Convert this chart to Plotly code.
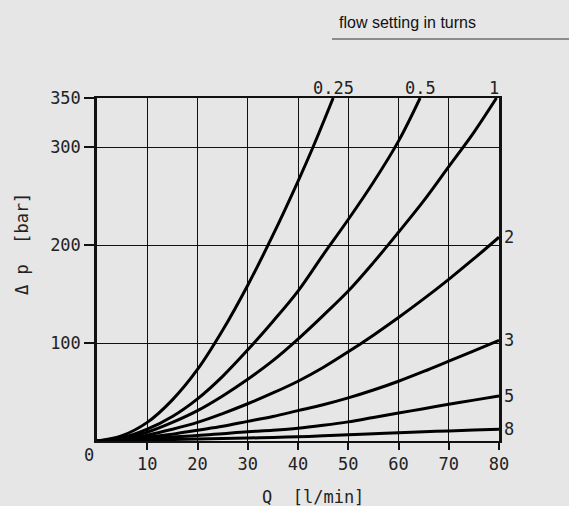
import plotly.graph_objects as go

# Flow Q [l/min] vs pressure drop [bar] for flow settings (turns)
settings = ["0.25", "0.5", "1", "2", "3", "5", "8"]
q_025 = [0, 5, 10, 15, 20, 25, 30, 35, 40, 43, 47]
dp_025 = [0, 5.5, 19, 42, 73, 113, 159, 210, 265, 300, 350]
q_05 = [0, 5, 10, 15, 20, 25, 30, 35, 40, 45, 50, 55, 60, 64.3]
dp_05 = [0, 3.3, 12, 25, 43, 66, 93, 122, 153, 190, 226, 264, 306, 350]
q_1 = [0, 5, 10, 15, 20, 25, 30, 35, 40, 45, 50, 55, 60, 65, 70, 75, 79.5]
dp_1 = [0, 2.3, 9, 19, 31, 46, 63, 82, 104, 128, 153, 182, 213, 245, 280, 315, 350]
q_2 = [0, 5, 10, 15, 20, 25, 30, 35, 40, 45, 50, 55, 60, 65, 70, 75, 80]
dp_2 = [0, 1.7, 6, 12, 19, 28, 38, 49, 61, 75, 91, 108, 126, 145, 165, 186, 208]
q_3 = [0, 5, 10, 15, 20, 25, 30, 35, 40, 45, 50, 55, 60, 65, 70, 75, 80]
dp_3 = [0, 1.5, 4, 7, 11, 15, 20, 25, 31, 37, 44, 52, 61, 71, 81.5, 92, 102.8]
q_5 = [0, 5, 10, 15, 20, 25, 30, 35, 40, 45, 50, 55, 60, 65, 70, 75, 80]
dp_5 = [0, 1, 2.5, 4, 5.5, 7.5, 9.5, 11, 13, 16, 19.5, 24, 28.5, 33, 37.5, 41.7, 45.9]
q_8 = [0, 5, 10, 15, 20, 25, 30, 35, 40, 45, 50, 55, 60, 65, 70, 75, 80]
dp_8 = [0, 0.4, 1, 1.5, 2, 2.5, 3, 3.6, 4.3, 5.3, 6.4, 7.5, 8.5, 9.4, 10.3, 11.1, 12]

x_ticks = [10, 20, 30, 40, 50, 60, 70, 80]
y_ticks = [100, 200, 300, 350]

series = [(q_025, dp_025), (q_05, dp_05), (q_1, dp_1), (q_2, dp_2),
          (q_3, dp_3), (q_5, dp_5), (q_8, dp_8)]

MONO = "DejaVu Sans Mono"
BG = "#e6e6e6"
TXT = "#222"

fig = go.Figure()
for name, (q, dp) in zip(settings, series):
    fig.add_trace(go.Scatter(
        x=q, y=dp, mode="lines", name=name,
        line=dict(color="black", width=3, shape="spline", smoothing=1.0),
        cliponaxis=False, showlegend=False, hoverinfo="skip"))

L, R, T, B, W, H = 97, 70, 98, 65, 569, 506
pw, ph = W - L - R, H - T - B
def px_x(p):
    return (p - L) / pw
def px_y(p):
    return (H - B - p) / ph

annotations = []
# curve labels on top
for txt, qx in [("0.25", q_025[-1]), ("0.5", q_05[-1]), ("1", q_1[-1])]:
    annotations.append(dict(x=qx, y=350, text=txt, showarrow=False,
                            xanchor="center", yanchor="bottom", yshift=-2,
                            xshift=-2 if txt == "1" else 0,
                            font=dict(family=MONO, size=17, color=TXT)))
# curve labels at right
for txt, (q, dp) in zip(settings[3:], series[3:]):
    annotations.append(dict(x=80, y=dp[-1], text=txt, showarrow=False,
                            xanchor="left", yanchor="middle", xshift=3,
                            font=dict(family=MONO, size=17, color=TXT)))
# origin label
annotations.append(dict(x=0, y=0, text="0", showarrow=False,
                        xanchor="right", yanchor="top", xshift=-1, yshift=-2,
                        font=dict(family=MONO, size=17, color=TXT)))
# axis titles
annotations.append(dict(x=px_x(313), y=px_y(497), xref="paper", yref="paper",
                        text="Q  [l/min]", showarrow=False,
                        xanchor="center", yanchor="middle",
                        font=dict(family=MONO, size=17, color=TXT)))
annotations.append(dict(x=px_x(22), y=px_y(244), xref="paper", yref="paper",
                        text="Δ p  [bar]", showarrow=False, textangle=-90,
                        xanchor="center", yanchor="middle",
                        font=dict(family=MONO, size=17, color=TXT)))
# header text
annotations.append(dict(x=px_x(337), y=px_y(22), xref="paper", yref="paper",
                        text="flow setting in turns", showarrow=False,
                        xanchor="left", yanchor="middle",
                        font=dict(family="Liberation Sans", size=16, color="#111")))

fig.update_layout(
    width=W, height=H,
    margin=dict(l=L, r=R, t=T, b=B),
    paper_bgcolor=BG, plot_bgcolor=BG,
    showlegend=False,
    annotations=annotations,
    shapes=[dict(type="line", xref="paper", yref="paper",
                 x0=px_x(332), x1=px_x(569), y0=px_y(39), y1=px_y(39),
                 line=dict(color="#333", width=1))],
)

fig.update_xaxes(
    range=[0, 80], tickvals=x_ticks, ticktext=[str(v) for v in x_ticks],
    ticks="outside", ticklen=7, tickwidth=1.5, tickcolor="#111",
    showgrid=True, gridcolor="#111", gridwidth=1.2,
    showline=True, linecolor="#111", linewidth=2, mirror=True,
    zeroline=False,
    tickfont=dict(family=MONO, size=17, color=TXT),
)
fig.update_yaxes(
    range=[0, 350], tickvals=y_ticks, ticktext=[str(v) for v in y_ticks],
    ticks="outside", ticklen=10, tickwidth=1.5, tickcolor="#111",
    showgrid=True, gridcolor="#111", gridwidth=1.2,
    showline=True, linecolor="#111", linewidth=2.5, mirror=True,
    zeroline=False,
    tickfont=dict(family=MONO, size=17, color=TXT),
)

fig.write_html("out.html", config={"displayModeBar": False},
               post_script="document.body.style.margin='0';document.body.style.background='#e6e6e6';")
